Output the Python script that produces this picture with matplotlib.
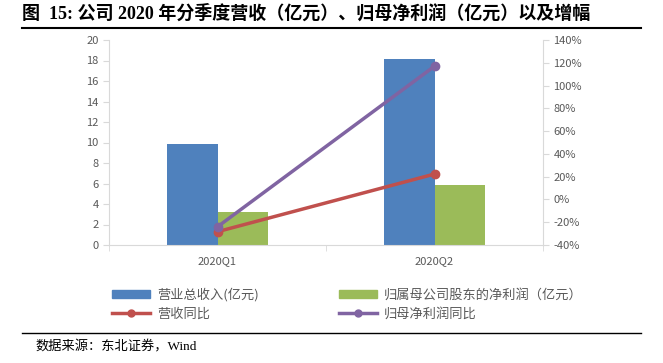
import numpy as np
import matplotlib
matplotlib.use("Agg")
import matplotlib.pyplot as plt
from matplotlib.lines import Line2D
from matplotlib.patches import Patch

plt.rcParams['font.family'] = ['Noto Sans CJK SC', 'DejaVu Sans']

quarters = ['2020Q1', '2020Q2']
revenue = [9.9, 18.1]          # 营业总收入(亿元)
net_profit = [3.2, 5.9]        # 归属母公司股东的净利润(亿元)
revenue_yoy = [-28.3, 22.3]    # 营收同比 %
profit_yoy = [-24.0, 117.0]    # 归母净利润同比 %

blue = '#4F81BD'
green = '#9BBB59'
red = '#C0504D'
purple = '#8064A2'
axis_gray = '#D9D9D9'
tick_gray = '#595959'

fig = plt.figure(figsize=(6.63, 3.63), dpi=100)
W, H = 663, 363
ax = fig.add_axes([109 / W, 1 - 245 / H, (543 - 109) / W, (245 - 40) / H])
ax2 = ax.twinx()

x = np.arange(len(quarters))
bw = 0.235
ax.bar(x - bw / 2, revenue, bw, color=blue, zorder=2)
ax.bar(x + bw / 2, net_profit, bw, color=green, zorder=2)
ax.set_xlim(-0.5, 1.5)
ax.set_ylim(0, 20)
ax.set_yticks(range(0, 21, 2))

ax2.plot(x, revenue_yoy, color=red, lw=2.5, marker='o', ms=6, zorder=3)
ax2.plot(x, profit_yoy, color=purple, lw=2.5, marker='o', ms=6, zorder=3)
ax2.set_ylim(-40, 140)
ax2.set_yticks(range(-40, 141, 20))
ax2.set_yticklabels([f'{v}%' for v in range(-40, 141, 20)])

ax.set_xticks(x)
ax.set_xticklabels(quarters)
ax.set_xticks([-0.5, 0.5, 1.5], minor=True)
ax.tick_params(axis='x', which='major', length=0, pad=8)
ax.tick_params(axis='x', which='minor', length=4, color=axis_gray, direction='out')

for a in (ax, ax2):
    for s in a.spines.values():
        s.set_visible(False)
    a.tick_params(axis='y', colors=axis_gray, labelcolor=tick_gray, labelsize=8, length=4, width=0.8)
    a.tick_params(axis='x', labelcolor=tick_gray, labelsize=8)
ax.spines['left'].set_visible(True)
ax.spines['left'].set_color(axis_gray)
ax.spines['bottom'].set_visible(True)
ax.spines['bottom'].set_color(axis_gray)
ax2.spines['right'].set_visible(True)
ax2.spines['right'].set_color(axis_gray)

# column-wise fill: blue/red in first column, green/purple in second
handles = [
    Patch(color=blue, label='营业总收入(亿元)'),
    Line2D([], [], color=red, lw=2.5, marker='o', ms=5, label='营收同比'),
    Patch(color=green, label='归属母公司股东的净利润（亿元）'),
    Line2D([], [], color=purple, lw=2.5, marker='o', ms=5, label='归母净利润同比'),
]
leg = fig.legend(handles=handles, ncol=2, loc='upper left', bbox_to_anchor=(100 / W, 1 - 276 / H),
                 frameon=False, fontsize=9.5, handlelength=2.9, handleheight=0.6,
                 columnspacing=6.1, labelspacing=0.45, handletextpad=0.5)
for t in leg.get_texts():
    t.set_color(tick_gray)

title_font = ['Liberation Serif', 'Noto Sans CJK SC']
fig.text(22 / W, 1 - 14 / H, '图  15: 公司 2020 年分季度营收（亿元）、归母净利润（亿元）以及增幅',
         family=title_font, fontsize=13, fontweight='bold', va='center', ha='left')
fig.add_artist(Line2D([22 / W, 641 / W], [1 - 28 / H, 1 - 28 / H], color='black', lw=1.5))
fig.add_artist(Line2D([22 / W, 641 / W], [1 - 333 / H, 1 - 333 / H], color='black', lw=1.0))
fig.text(35 / W, 1 - 347 / H, '数据来源：东北证券，Wind', family=title_font, fontsize=9.5,
         va='center', ha='left')

fig.savefig('out.png', dpi=100)
